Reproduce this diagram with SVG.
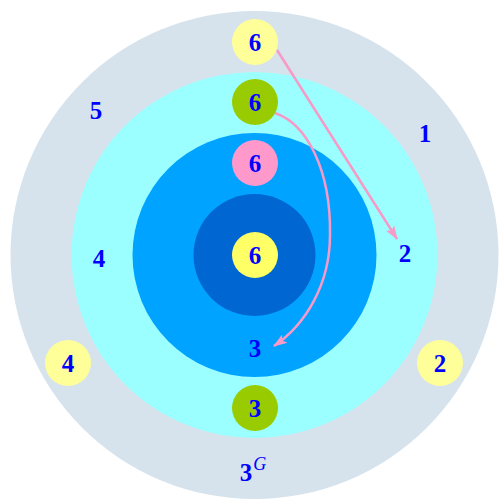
<svg xmlns="http://www.w3.org/2000/svg" width="499" height="499" viewBox="0 0 499 499">
<defs>
<style>
.t{font-family:"Liberation Serif","DejaVu Serif",serif;font-weight:bold;font-size:25px;fill:#0000FF;text-anchor:middle}
.e{fill:none;stroke:#F79AC8;stroke-width:2.5}
</style>
<marker id="ah" viewBox="0 0 14 10" refX="13" refY="5" markerWidth="14" markerHeight="10" markerUnits="userSpaceOnUse" orient="auto">
<path d="M0,0 L14,5 L0,10 L3,5 Z" fill="#F79AC8"/>
</marker>
</defs>
<rect width="499" height="499" fill="#FFFFFF"/>
<g id="rings">
<circle cx="254.5" cy="255" r="244" fill="#D6E3EC"/>
<circle cx="254.5" cy="255" r="183" fill="#9CFFFF"/>
<circle cx="254.5" cy="255" r="122" fill="#00A3FF"/>
<circle cx="254.5" cy="255" r="61" fill="#0066D2"/>
</g>
<g id="n_top6"><circle cx="255" cy="42" r="23" fill="#FFFF99"/><text class="t" x="255" y="50.5">6</text></g>
<g id="n_g6"><circle cx="255" cy="102" r="23" fill="#99CC00"/><text class="t" x="255" y="110.5">6</text></g>
<g id="n_p6"><circle cx="255" cy="163" r="23" fill="#FF99CC"/><text class="t" x="255" y="171.5">6</text></g>
<g id="n_c6"><circle cx="255" cy="255" r="23" fill="#FFFF66"/><text class="t" x="255" y="263.5">6</text></g>
<g id="n_3"><text class="t" x="255" y="356.5">3</text></g>
<g id="n_g3"><circle cx="255" cy="408" r="23" fill="#99CC00"/><text class="t" x="255" y="416.5">3</text></g>
<g id="n_3G"><text class="t" x="253" y="481">3<tspan font-style="italic" font-weight="normal" font-size="18px" dx="1" dy="-11">G</tspan></text></g>
<g id="n_y4"><circle cx="68" cy="363" r="23" fill="#FFFF99"/><text class="t" x="68" y="371.5">4</text></g>
<g id="n_y2"><circle cx="440" cy="363" r="23" fill="#FFFF99"/><text class="t" x="440" y="371.5">2</text></g>
<g id="n_5"><text class="t" x="96" y="118.5">5</text></g>
<g id="n_1"><text class="t" x="425" y="141.5">1</text></g>
<g id="n_4"><text class="t" x="99" y="266.5">4</text></g>
<g id="n_2"><text class="t" x="405" y="261.5">2</text></g>
<g id="connectors">
<path class="e" d="M277,50 L397,239" marker-end="url(#ah)"/>
<path class="e" d="M275,113 C307,124 331,170 330,235 C330,285 305,325 274,346" marker-end="url(#ah)"/>
</g>
</svg>
